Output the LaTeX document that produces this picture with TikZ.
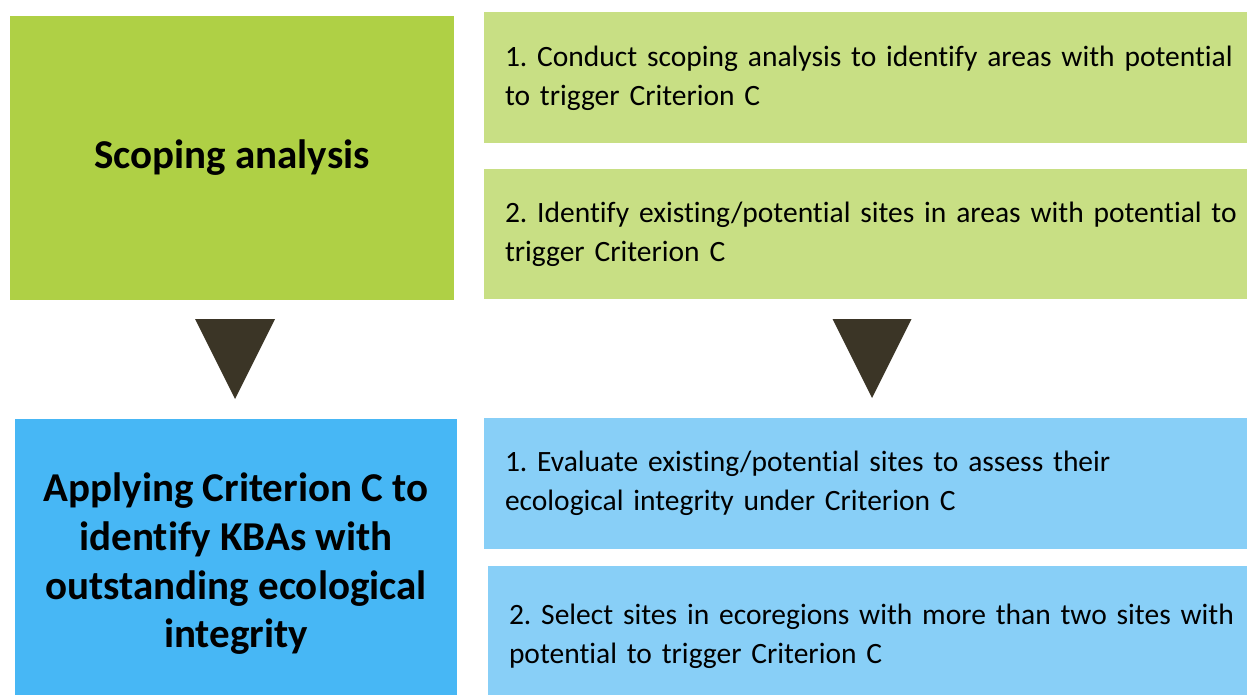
\documentclass[tikz,border=0pt]{standalone}
\usepackage{fontspec}
\setmainfont[Ligatures=NoCommon]{Carlito}
\usepackage{tikz}
\usetikzlibrary{positioning}
\definecolor{darkgreen}{HTML}{AFD045}
\definecolor{lightgreen}{HTML}{C8DF84}
\definecolor{darkblue}{HTML}{47B7F5}
\definecolor{lightblue}{HTML}{88CFF7}
\definecolor{arrowbrown}{HTML}{3B3526}
\frenchspacing

\begin{document}
\begin{tikzpicture}[x=1pt,y=-1pt]
\tikzset{phase/.style = {shape=rectangle, align=center, inner sep=0pt, font=\fontsize{41}{48.7}\selectfont\bfseries}}
\tikzset{task/.style = {shape=rectangle, align=left, inner xsep=21pt, inner ysep=0pt, text width=742pt, font=\fontsize{29.5}{39}\selectfont}}
\tikzset{pointer/.style = {fill=arrowbrown}}
\useasboundingbox (0,0) rectangle (1247,695);
% left column
\node[phase, fill=darkgreen, minimum width=444pt, minimum height=284pt] (scope) at (232,158) {Scoping analysis};
\node[phase, fill=darkblue, minimum width=442pt, minimum height=290pt] (apply) at (236,564)
  {Applying Criterion C to\\identify KBAs with\\outstanding ecological\\integrity};

% right column (boxes run past the right edge)
\node[task, fill=lightgreen, minimum height=131pt] (scope1) at (876,78)
  {1. Conduct scoping analysis to identify areas with potential\\to trigger Criterion C};
\node[task, fill=lightgreen, minimum height=130pt] (scope2) at (876,234)
  {2. Identify existing/potential sites in areas with potential to\\trigger Criterion C};
\node[task, fill=lightblue, minimum height=131pt] (apply1) at (876,483)
  {1. Evaluate existing/potential sites to assess their\\ecological integrity under Criterion C};
\node[task, fill=lightblue, minimum height=141pt] (apply2) at (880,636.5)
  {2. Select sites in ecoregions with more than two sites with\\potential to trigger Criterion C};

% arrows
\coordinate (tipL) at (235,399);
\coordinate (tipR) at (872,398);
\fill[pointer] (tipL) -- ++(-40,-80) -- ++(80,0) -- cycle;
\fill[pointer] (tipR) -- ++(-39.5,-79) -- ++(79,0) -- cycle;

\end{tikzpicture}
\end{document}
